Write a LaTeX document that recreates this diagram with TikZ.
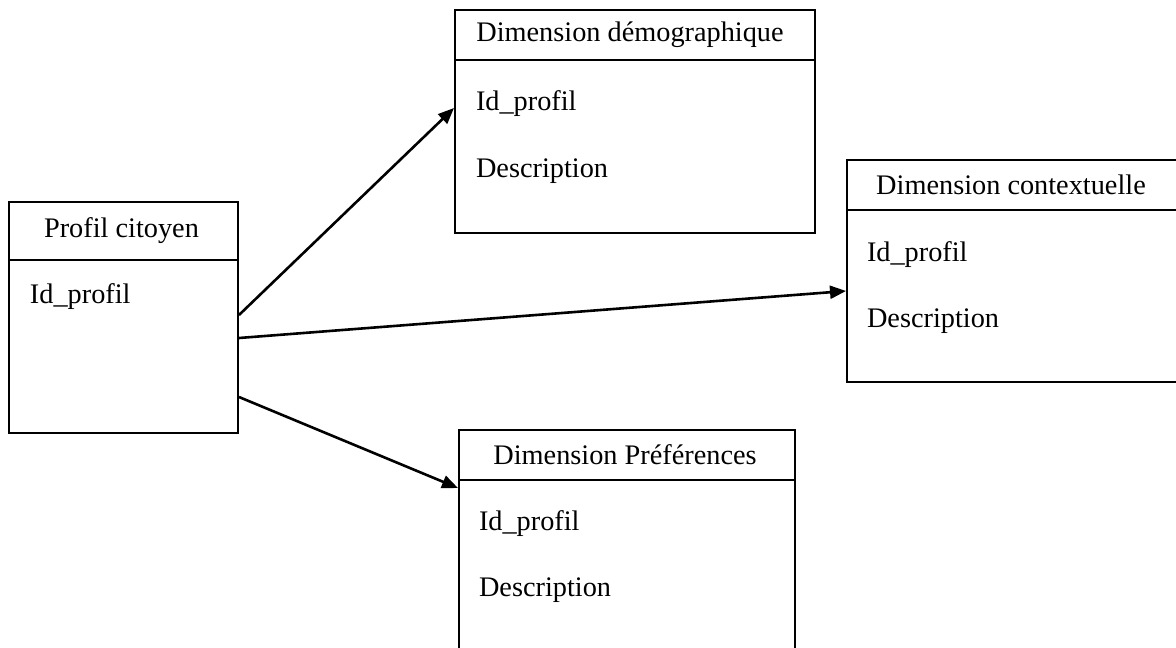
\documentclass[tikz,border=0pt]{standalone}
\usepackage{fontspec}
\setmainfont{Liberation Serif}
\usetikzlibrary{arrows.meta,calc}
\begin{document}
\begin{tikzpicture}[x=1pt,y=-1pt,
  line width=2pt,
  hdr/.style={draw,rectangle,inner sep=0pt,anchor=north west,font=\fontsize{28.3}{34}\selectfont},
  bodybox/.style={draw,rectangle,inner sep=0pt,anchor=north west},
  field/.style={inner sep=0pt,anchor=base west,font=\fontsize{28.3}{34}\selectfont},
  link/.style={line width=2.6pt,-{Triangle[length=16pt,width=13pt]}}]
\useasboundingbox (0,0) rectangle (1176,648);
% Profil citoyen
\node[hdr,minimum width=229pt,minimum height=58pt] (profH) at (8,201) {\hspace*{-4pt}Profil citoyen};
\node[bodybox,minimum width=229pt,minimum height=173pt] (profB) at (8,259) {};
\node[field] (profF1) at (29,303) {Id\_profil};
% Dimension demographique
\node[hdr,minimum width=360pt,minimum height=50pt] (demH) at (454,9) {\hspace*{-10pt}Dimension démographique};
\node[bodybox,minimum width=360pt,minimum height=173pt] (demB) at (454,59) {};
\node[field] (demF1) at (475,110) {Id\_profil};
\node[field] (demF2) at (475,177) {Description};
% Dimension contextuelle
\node[hdr,minimum width=334pt,minimum height=50pt] (ctxH) at (846,159) {\hspace*{-6pt}Dimension contextuelle};
\node[bodybox,minimum width=334pt,minimum height=172pt] (ctxB) at (846,209) {};
\node[field] (ctxF1) at (866,261) {Id\_profil};
\node[field] (ctxF2) at (866,327) {Description};
% Dimension Preferences
\node[hdr,minimum width=336pt,minimum height=50pt] (prefH) at (458,429) {\hspace*{-4pt}Dimension Préférences};
\node[bodybox,minimum width=336pt,minimum height=175pt] (prefB) at (458,479) {};
\node[field] (prefF1) at (478,530) {Id\_profil};
\node[field] (prefF2) at (478,596) {Description};
% connectors
\draw[link] ($(profB.north east)+(0,56)$) -- ($(demB.north west)+(0,49)$);
\draw[link] ($(profB.north east)+(0,79)$) -- ($(ctxB.north west)+(0,82)$);
\draw[link] ($(profB.north east)+(0,138)$) -- ($(prefB.north west)+(0,9)$);
\end{tikzpicture}
\end{document}
